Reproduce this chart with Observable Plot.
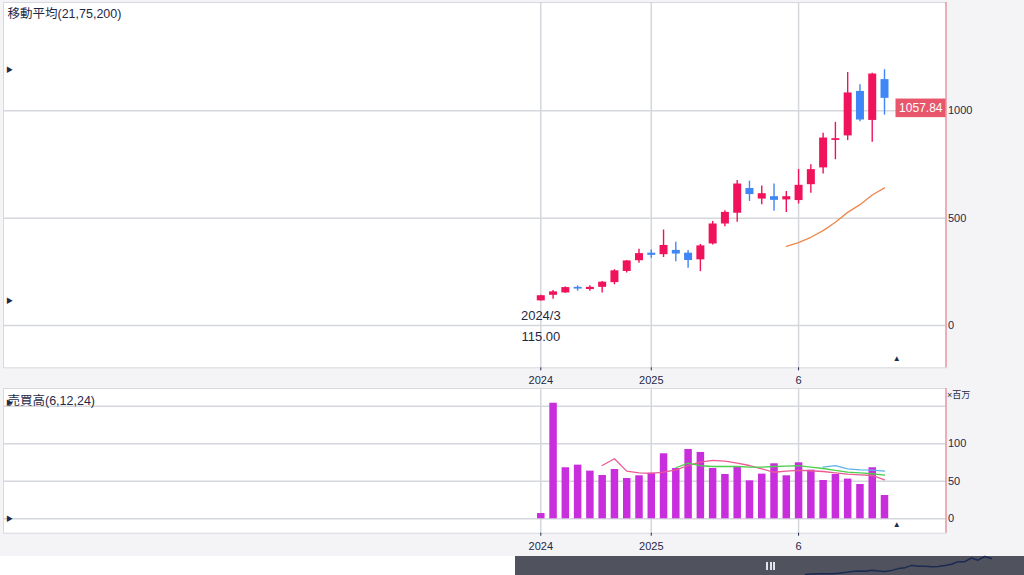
<!DOCTYPE html>
<html>
<head>
<meta charset="utf-8">
<script src="https://cdn.jsdelivr.net/npm/d3@7"></script>
<script src="https://cdn.jsdelivr.net/npm/@observablehq/plot@0.6"></script>
<style>
  body { margin: 0; background: #f4f4f7; }
  #root { position: relative; width: 1024px; height: 575px; overflow: hidden; background: #f4f4f7;
          font-family: "Liberation Sans", Arial, "Noto Sans CJK JP", sans-serif; }
  #price { position: absolute; left: 0; top: 0; }
  #vol { position: absolute; left: 0; top: 386px; }
  #navL { position: absolute; left: 0; top: 556px; width: 515px; height: 19px; background: #ffffff; }
  #nav { position: absolute; left: 515px; top: 556px; width: 509px; height: 19px; background: #50535e; }
  #grip { position: absolute; left: 766px; top: 562px; width: 9px; height: 8px; display: flex; gap: 1.5px; }
  #grip span { display: block; width: 2px; height: 8px; background: #e4e4ea; }
  svg { overflow: visible; }
</style>
</head>
<body>
<div id="root">
  <div id="price"></div>
  <div id="vol"></div>
  <div id="navL"></div>
  <div id="nav"></div>
  <div id="grip"><span></span><span></span><span></span></div>
</div>
<script>
// ---------- data (monthly candles) ----------
const open  = [115,141,152,178,168,178,200,252,302,337,330,350,337,306,380,473,523,638,589,600,585,582,656,734,862,883,1090,955,1145];
const close = [139,157,177,170,178,202,255,301,335,327,373,333,303,371,473,527,659,610,614,583,600,653,726,873,870,1083,957,1171,1057.84];
const high  = [141,163,180,185,185,205,260,303,355,352,445,388,349,378,485,535,675,672,650,659,624,727,749,895,946,1178,1121,1175,1191];
const low   = [115,123,150,160,160,152,190,245,290,313,317,297,267,251,375,460,481,578,563,532,527,566,616,706,772,861,949,853,980];

// 21-period moving average (starts at the 21st candle)
const ma21Start = 20;
const ma21 = [369,386,411,442,481,527,563,608,641];

// volume, millions
const volume = [7,154,68,71.5,63.5,57.7,65.7,53.7,57.3,60.8,86.6,67,92.4,88.4,67,59,68.8,50.6,59.5,73.3,57.3,74.6,64.8,51,59,52.9,45.7,68,31];
const ma6Start = 5;
const ma6  = [71,80,63.5,61.3,60.4,62.2,65.3,71,75.5,77.8,76.8,74.1,71,66.6,62,63.5,64.4,64,63,61.3,59.5,58.6,57.7,52];
const ma12Start = 11;
const ma12 = [68,74.1,70.7,69.7,69.7,69.7,68.9,68.9,69.7,70.2,70.7,68.9,67,64.4,62.2,61.3,60,58.2];
const ma24Start = 23;
const ma24 = [68.9,70.7,66.6,65.3,64.8,63.5];

// axis ticks / labels
const xTickIdx = [0, 9, 21];
const xTickLabels = ["2024", "2025", "6"];
const priceTicks = [0, 500, 1000];
const volGridTicks = [0, 50, 100, 150];
const volLabelTicks = [0, 50, 100];
const priceTitle = "移動平均(21,75,200)";
const volTitle = "売買高(6,12,24)";
const volUnit = "×百万";
const lowDateLabel = "2024/3";

// ---------- styles ----------
const FONT = "'Liberation Sans', Arial, 'Noto Sans CJK JP', sans-serif";
const INK = "#1f2947";
const GRID = "#d4d7dc";
const UP = "#f0125a";
const DOWN = "#3f86f6";
const EDGE = "#ef7282";
const xDomain = [-43.77, 33.01];

const candles = open.map((o, i) => ({i, open: o, close: close[i], high: high[i], low: low[i]}));
const up = d => d.close >= d.open;
const down = d => d.close < d.open;
const maPrice = ma21.map((v, k) => ({i: k + ma21Start, v}));
const vols = volume.map((v, i) => ({i, v}));
const mk = (arr, s) => arr.map((v, k) => ({i: k + s, v}));

const lowest = candles.reduce((a, b) => (b.low < a.low ? b : a));
const maxHigh = d3.max(high);
const nextIdx = candles.length;
const last = candles[candles.length - 1];

function tickFmt(i) { return xTickLabels[xTickIdx.indexOf(i)]; }
const plain = d => String(d);

// label box for the last price, placed with the y scale
function lastPriceLabel(index, scales, values, dimensions) {
  const ns = "http://www.w3.org/2000/svg";
  const g = document.createElementNS(ns, "g");
  const yc = scales.y(last.close) + 10;
  const xr = dimensions.width - dimensions.marginRight;
  const r = document.createElementNS(ns, "rect");
  r.setAttribute("x", xr - 50); r.setAttribute("y", yc - 9.3);
  r.setAttribute("width", 50); r.setAttribute("height", 18.6);
  r.setAttribute("fill", "#e8566b");
  const t = document.createElementNS(ns, "text");
  t.setAttribute("x", xr - 3); t.setAttribute("y", yc);
  t.setAttribute("text-anchor", "end"); t.setAttribute("dy", "0.35em");
  t.setAttribute("fill", "#ffffff"); t.setAttribute("font-size", 12);
  t.textContent = last.close.toFixed(2);
  g.appendChild(r); g.appendChild(t);
  return g;
}

const price = Plot.plot({
  width: 1024, height: 386,
  marginTop: 2, marginBottom: 18.7, marginLeft: 3, marginRight: 78.5,
  x: {type: "linear", domain: xDomain},
  y: {domain: [-196.5, 1504]},
  style: {background: "transparent", fontFamily: FONT, color: INK, overflow: "visible"},
  marks: [
    Plot.frame({fill: "#ffffff", stroke: "#d6d9de"}),
    Plot.gridY(priceTicks, {stroke: GRID, strokeOpacity: 1, strokeWidth: 1.5}),
    Plot.gridX(xTickIdx, {stroke: GRID, strokeOpacity: 1, strokeWidth: 1.5}),
    Plot.ruleX([xDomain[1]], {stroke: EDGE, strokeWidth: 1}),
    Plot.axisY(priceTicks, {anchor: "right", tickSize: 0, tickPadding: 2, fontSize: 11, label: null, fill: INK, tickFormat: plain}),
    Plot.axisX(xTickIdx, {anchor: "bottom", tickSize: 3, tickPadding: 5, fontSize: 11, label: null, tickFormat: tickFmt, fill: INK, stroke: INK}),
    Plot.ruleX(candles, {filter: up, x: "i", y1: "low", y2: "high", stroke: UP, strokeWidth: 1.4}),
    Plot.ruleX(candles, {filter: up, x: "i", y1: "open", y2: "close", stroke: UP, strokeWidth: 8}),
    Plot.ruleX(candles, {filter: down, x: "i", y1: "low", y2: "high", stroke: DOWN, strokeWidth: 1.4}),
    Plot.ruleX(candles, {filter: down, x: "i", y1: "open", y2: "close", stroke: DOWN, strokeWidth: 8}),
    Plot.line(maPrice, {x: "i", y: "v", stroke: "#ef874c", strokeWidth: 1.3}),
    Plot.text([lowest], {x: "i", y: "low", text: () => lowDateLabel, dy: 15, fontSize: 13, fill: INK}),
    Plot.text([lowest], {x: "i", y: "low", text: d => d.low.toFixed(2), dy: 35.6, fontSize: 13, fill: INK}),
    Plot.text([maxHigh, lowest.low], {y: d => d, frameAnchor: "left", textAnchor: "middle", dx: 6, text: () => "▶", fontSize: 7, fill: INK}),
    Plot.text([nextIdx], {x: d => d, frameAnchor: "bottom", dy: -7, text: () => "▲", fontSize: 8, fill: INK}),
    Plot.text([priceTitle], {frameAnchor: "top-left", textAnchor: "start", dx: 4, dy: 7, fontSize: 12.5, fill: INK, text: d => d}),
    lastPriceLabel
  ]
});
document.getElementById("price").appendChild(price);

const vol = Plot.plot({
  width: 1024, height: 170,
  marginTop: 2, marginBottom: 23.3, marginLeft: 3, marginRight: 78.5,
  x: {type: "linear", domain: xDomain},
  y: {domain: [-19.2, 173.6]},
  style: {background: "transparent", fontFamily: FONT, color: INK, overflow: "visible"},
  marks: [
    Plot.frame({fill: "#ffffff", stroke: "#d6d9de"}),
    Plot.gridY(volGridTicks, {stroke: GRID, strokeOpacity: 1, strokeWidth: 1.5}),
    Plot.gridX(xTickIdx, {stroke: GRID, strokeOpacity: 1, strokeWidth: 1.5}),
    Plot.ruleX([xDomain[1]], {stroke: EDGE, strokeWidth: 1}),
    Plot.axisY(volLabelTicks, {anchor: "right", tickSize: 0, tickPadding: 2, fontSize: 11, label: null, fill: INK, tickFormat: plain}),
    Plot.axisX(xTickIdx, {anchor: "bottom", tickSize: 3, tickPadding: 6, fontSize: 11, label: null, tickFormat: tickFmt, fill: INK, stroke: INK}),
    Plot.ruleX(vols, {x: "i", y1: 0, y2: "v", stroke: "#c92edd", strokeWidth: 7.5}),
    Plot.line(mk(ma6, ma6Start), {x: "i", y: "v", stroke: "#ea5b96", strokeWidth: 1.3}),
    Plot.line(mk(ma12, ma12Start), {x: "i", y: "v", stroke: "#4ccf4c", strokeWidth: 1.3}),
    Plot.line(mk(ma24, ma24Start), {x: "i", y: "v", stroke: "#5cb2ee", strokeWidth: 1.3}),
    Plot.text([volTitle], {frameAnchor: "top-left", textAnchor: "start", dx: 4, dy: 7.5, fontSize: 12.5, fill: INK, text: d => d}),
    Plot.text([volUnit], {frameAnchor: "top-right", textAnchor: "start", dx: 1, dy: 3, fontSize: 9, fill: INK, text: d => d}),
    Plot.text([d3.max(volume), 0], {y: d => d, frameAnchor: "left", textAnchor: "middle", dx: 6, text: () => "▶", fontSize: 7, fill: INK}),
    Plot.text([nextIdx], {x: d => d, frameAnchor: "bottom", dy: -6.5, text: () => "▲", fontSize: 8, fill: INK})
  ]
});
document.getElementById("vol").appendChild(vol);

const nav = Plot.plot({
  width: 509, height: 19, margin: 0,
  x: {type: "linear", domain: xDomain, axis: null},
  y: {domain: [75, 1171], axis: null},
  style: {background: "transparent", overflow: "visible"},
  marks: [
    Plot.line(candles, {x: "i", y: "close", stroke: "#1b2a52", strokeWidth: 1.5})
  ]
});
document.getElementById("nav").appendChild(nav);
</script>
</body>
</html>
